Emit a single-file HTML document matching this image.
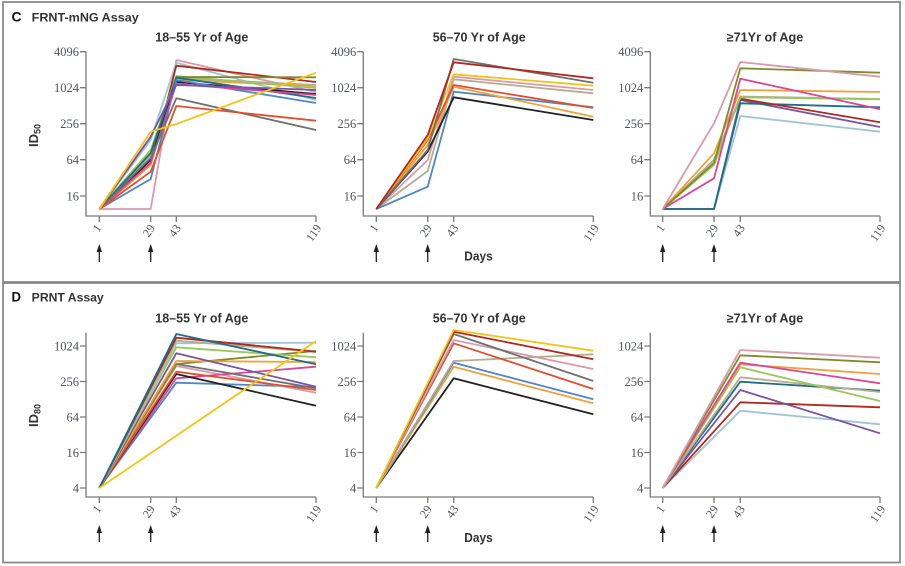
<!DOCTYPE html>
<html><head><meta charset="utf-8"><style>
html,body{margin:0;padding:0;background:#fff;}
svg{display:block;}
.ax{stroke:#7a7a7a;stroke-width:1.3;fill:none;}
.s{fill:none;stroke-width:1.8;stroke-linejoin:round;}
.yt{font-family:"Liberation Serif",serif;font-size:12.5px;fill:#4f555c;text-anchor:end;}
.xt{font-family:"Liberation Serif",serif;font-size:12px;fill:#4f555c;text-anchor:end;}
.tt{font-family:"Liberation Sans",sans-serif;font-weight:bold;font-size:12.5px;fill:#333;}
.pl{font-family:"Liberation Sans",sans-serif;font-weight:bold;font-size:14px;fill:#111;}
.ar{stroke:#222;stroke-width:1.3;}
</style></head><body>
<svg width="905" height="566" viewBox="0 0 905 566" xmlns="http://www.w3.org/2000/svg">
<rect x="0" y="0" width="905" height="566" fill="#fff"/>
<rect x="3" y="2" width="897" height="280" fill="none" stroke="#858585" stroke-width="1.7"/>
<rect x="3" y="283" width="897" height="279.5" fill="none" stroke="#858585" stroke-width="1.7"/>

<text class="pl" x="11.5" y="21.7" textLength="10" lengthAdjust="spacingAndGlyphs">C</text>
<text class="tt" x="31.7" y="21.7" textLength="107" lengthAdjust="spacingAndGlyphs" style="font-size:12px">FRNT-mNG Assay</text>
<text class="pl" x="11.5" y="301.5" textLength="9.5" lengthAdjust="spacingAndGlyphs">D</text>
<text class="tt" x="31.7" y="301.5" textLength="72" lengthAdjust="spacingAndGlyphs" style="font-size:12px">PRNT Assay</text>

<text class="tt" x="155.3" y="41.7" textLength="93" lengthAdjust="spacingAndGlyphs">18–55 Yr of Age</text>
<text class="tt" x="432.7" y="41.7" textLength="93" lengthAdjust="spacingAndGlyphs">56–70 Yr of Age</text>
<text class="tt" x="726.7" y="41.7" textLength="76.6" lengthAdjust="spacingAndGlyphs">≥71Yr of Age</text>
<text class="tt" x="155.3" y="322.5" textLength="93" lengthAdjust="spacingAndGlyphs">18–55 Yr of Age</text>
<text class="tt" x="432.7" y="322.5" textLength="93" lengthAdjust="spacingAndGlyphs">56–70 Yr of Age</text>
<text class="tt" x="726.7" y="322.5" textLength="76.6" lengthAdjust="spacingAndGlyphs">≥71Yr of Age</text>

<text class="tt" transform="translate(38,147) rotate(-90)" style="font-size:13px">ID<tspan style="font-size:9px" dy="2.5">50</tspan></text>
<text class="tt" transform="translate(38,427) rotate(-90)" style="font-size:13px">ID<tspan style="font-size:9px" dy="2.5">80</tspan></text>

<text class="tt" x="464.3" y="260.5" textLength="28.4" lengthAdjust="spacingAndGlyphs">Days</text>
<text class="tt" x="464.3" y="542" textLength="28.4" lengthAdjust="spacingAndGlyphs">Days</text>

<g>
<polyline class="ax" points="86,51.7 86,216 316,216"/>
<path class="ax" d="M80,51.7H86M80,87.7H86M80,123.7H86M80,159.7H86M80,196H86"/>
<path class="ax" d="M99.3,216V222M150.7,216V222M176.3,216V222M316,216V222"/>
<text class="yt" x="79" y="56">4096</text><text class="yt" x="79" y="92">1024</text><text class="yt" x="79" y="128">256</text><text class="yt" x="79" y="164">64</text><text class="yt" x="79" y="200.3">16</text>
<polyline class="ax" points="363.3,51.7 363.3,216 593.3,216"/>
<path class="ax" d="M357.3,51.7H363.3M357.3,87.7H363.3M357.3,123.7H363.3M357.3,159.7H363.3M357.3,196H363.3"/>
<path class="ax" d="M376.3,216V222M427.7,216V222M453.7,216V222M593.3,216V222"/>
<text class="yt" x="356.3" y="56">4096</text><text class="yt" x="356.3" y="92">1024</text><text class="yt" x="356.3" y="128">256</text><text class="yt" x="356.3" y="164">64</text><text class="yt" x="356.3" y="200.3">16</text>
<polyline class="ax" points="650.3,51.7 650.3,216 880,216"/>
<path class="ax" d="M644.3,51.7H650.3M644.3,87.7H650.3M644.3,123.7H650.3M644.3,159.7H650.3M644.3,196H650.3"/>
<path class="ax" d="M662.7,216V222M714,216V222M740.3,216V222M880,216V222"/>
<text class="yt" x="643.3" y="56">4096</text><text class="yt" x="643.3" y="92">1024</text><text class="yt" x="643.3" y="128">256</text><text class="yt" x="643.3" y="164">64</text><text class="yt" x="643.3" y="200.3">16</text>
</g>

<g>
<text class="xt" transform="translate(102,228) rotate(-55)">1</text>
<text class="xt" transform="translate(155.5,228) rotate(-55)">29</text>
<text class="xt" transform="translate(181.5,228) rotate(-55)">43</text>
<text class="xt" transform="translate(322,228) rotate(-55)">119</text>
<text class="xt" transform="translate(379,228) rotate(-55)">1</text>
<text class="xt" transform="translate(432.5,228) rotate(-55)">29</text>
<text class="xt" transform="translate(459,228) rotate(-55)">43</text>
<text class="xt" transform="translate(599.5,228) rotate(-55)">119</text>
<text class="xt" transform="translate(665.4,228) rotate(-55)">1</text>
<text class="xt" transform="translate(718.8,228) rotate(-55)">29</text>
<text class="xt" transform="translate(745.5,228) rotate(-55)">43</text>
<text class="xt" transform="translate(886,228) rotate(-55)">119</text>
</g>

<g fill="#222">
<path class="ar" d="M99.3,250V262M150.7,250V262M376.3,250V262M427.7,250V262M662.7,250V262M714,250V262"/>
<path d="M99.3,244L96.6,252H102Z M150.7,244L148,252H153.4Z M376.3,244L373.6,252H379Z M427.7,244L425,252H430.4Z M662.7,244L660,252H665.4Z M714,244L711.3,252H716.7Z"/>
</g>

<g>
<polyline class="s" stroke="#d99aaa" points="99.3,209 150.7,209 176.3,60 316,92"/>
<polyline class="s" stroke="#9ec5d6" points="99.3,209 150.7,140 176.3,62.7 316,100"/>
<polyline class="s" stroke="#b0281e" points="99.3,209 150.7,165 176.3,65.7 316,82"/>
<polyline class="s" stroke="#b5ad90" points="99.3,209 150.7,155 176.3,78 316,85"/>
<polyline class="s" stroke="#f2a03a" points="99.3,209 150.7,165 176.3,80 316,86"/>
<polyline class="s" stroke="#98c85a" points="99.3,209 150.7,150 176.3,76 316,88"/>
<polyline class="s" stroke="#7f8a2a" points="99.3,209 150.7,160 176.3,77 316,77.3"/>
<polyline class="s" stroke="#222222" points="99.3,209 150.7,160 176.3,82 316,94"/>
<polyline class="s" stroke="#1f6e85" points="99.3,209 150.7,153 176.3,77.7 316,98"/>
<polyline class="s" stroke="#4f86c6" points="99.3,209 150.7,179 176.3,80 316,103"/>
<polyline class="s" stroke="#d8479a" points="99.3,209 150.7,163 176.3,84 316,95"/>
<polyline class="s" stroke="#7a52a6" points="99.3,209 150.7,136.7 176.3,85 316,90"/>
<polyline class="s" stroke="#707070" points="99.3,209 150.7,158 176.3,98.3 316,130"/>
<polyline class="s" stroke="#e0502e" points="99.3,209 150.7,171.7 176.3,106 316,120.7"/>
<polyline class="s" stroke="#f2c417" points="99.3,209 150.7,131.7 176.3,124 316,72.7"/>
</g>
<g>
<polyline class="s" stroke="#b5ad90" points="376.3,209 427.7,171 453.7,79.3 593.3,93.3"/>
<polyline class="s" stroke="#d99aaa" points="376.3,209 427.7,160 453.7,76.7 593.3,90"/>
<polyline class="s" stroke="#4f86c6" points="376.3,209 427.7,186.7 453.7,91.7 593.3,107.3"/>
<polyline class="s" stroke="#f2a03a" points="376.3,209 427.7,145 453.7,86.7 593.3,116.7"/>
<polyline class="s" stroke="#e0502e" points="376.3,209 427.7,140 453.7,85 593.3,108"/>
<polyline class="s" stroke="#222222" points="376.3,209 427.7,151.7 453.7,97.3 593.3,120"/>
<polyline class="s" stroke="#f2c417" points="376.3,209 427.7,138.3 453.7,74.3 593.3,85.7"/>
<polyline class="s" stroke="#707070" points="376.3,209 427.7,150 453.7,59 593.3,82.7"/>
<polyline class="s" stroke="#b0281e" points="376.3,209 427.7,135 453.7,62.3 593.3,78.3"/>
</g>
<g>
<polyline class="s" stroke="#9ec5d6" points="662.7,209 714,209 740.3,116 880,131.7"/>
<polyline class="s" stroke="#7a52a6" points="662.7,209 714,209 740.3,100 880,127"/>
<polyline class="s" stroke="#1f6e85" points="662.7,209 714,209 740.3,103.3 880,107.3"/>
<polyline class="s" stroke="#b0281e" points="662.7,209 714,160 740.3,98.7 880,122.3"/>
<polyline class="s" stroke="#b5ad90" points="662.7,209 714,160 740.3,96.5 880,99"/>
<polyline class="s" stroke="#98c85a" points="662.7,209 714,165 740.3,97.3 880,99.3"/>
<polyline class="s" stroke="#f2a03a" points="662.7,209 714,153.3 740.3,90 880,92"/>
<polyline class="s" stroke="#d8479a" points="662.7,209 714,178.3 740.3,78.7 880,109.3"/>
<polyline class="s" stroke="#7f8a2a" points="662.7,209 714,163 740.3,68.3 880,72.7"/>
<polyline class="s" stroke="#d99aaa" points="662.7,209 714,123.3 740.3,62 880,76.7"/>
</g>

<g>
<polyline class="ax" points="86,332.7 86,497 316,497"/>
<path class="ax" d="M80,346H86M80,381.5H86M80,417H86M80,452.5H86M80,488H86"/>
<path class="ax" d="M99.3,497V503M150.7,497V503M176.3,497V503M316,497V503"/>
<text class="yt" x="79" y="350.3">1024</text><text class="yt" x="79" y="385.8">256</text><text class="yt" x="79" y="421.3">64</text><text class="yt" x="79" y="456.8">16</text><text class="yt" x="79" y="492.3">4</text>
<polyline class="ax" points="363.3,332.7 363.3,497 593.3,497"/>
<path class="ax" d="M357.3,346H363.3M357.3,381.5H363.3M357.3,417H363.3M357.3,452.5H363.3M357.3,488H363.3"/>
<path class="ax" d="M376.3,497V503M427.7,497V503M453.7,497V503M593.3,497V503"/>
<text class="yt" x="356.3" y="350.3">1024</text><text class="yt" x="356.3" y="385.8">256</text><text class="yt" x="356.3" y="421.3">64</text><text class="yt" x="356.3" y="456.8">16</text><text class="yt" x="356.3" y="492.3">4</text>
<polyline class="ax" points="650.3,332.7 650.3,497 880,497"/>
<path class="ax" d="M644.3,346H650.3M644.3,381.5H650.3M644.3,417H650.3M644.3,452.5H650.3M644.3,488H650.3"/>
<path class="ax" d="M662.7,497V503M714,497V503M740.3,497V503M880,497V503"/>
<text class="yt" x="643.3" y="350.3">1024</text><text class="yt" x="643.3" y="385.8">256</text><text class="yt" x="643.3" y="421.3">64</text><text class="yt" x="643.3" y="456.8">16</text><text class="yt" x="643.3" y="492.3">4</text>
</g>

<g>
<text class="xt" transform="translate(102,509) rotate(-55)">1</text>
<text class="xt" transform="translate(155.5,509) rotate(-55)">29</text>
<text class="xt" transform="translate(181.5,509) rotate(-55)">43</text>
<text class="xt" transform="translate(322,509) rotate(-55)">119</text>
<text class="xt" transform="translate(379,509) rotate(-55)">1</text>
<text class="xt" transform="translate(432.5,509) rotate(-55)">29</text>
<text class="xt" transform="translate(459,509) rotate(-55)">43</text>
<text class="xt" transform="translate(599.5,509) rotate(-55)">119</text>
<text class="xt" transform="translate(665.4,509) rotate(-55)">1</text>
<text class="xt" transform="translate(718.8,509) rotate(-55)">29</text>
<text class="xt" transform="translate(745.5,509) rotate(-55)">43</text>
<text class="xt" transform="translate(886,509) rotate(-55)">119</text>
</g>

<g fill="#222">
<path class="ar" d="M99.3,531V542M150.7,531V542M376.3,531V542M427.7,531V542M662.7,531V542M714,531V542"/>
<path d="M99.3,525L96.6,533H102Z M150.7,525L148,533H153.4Z M376.3,525L373.6,533H379Z M427.7,525L425,533H430.4Z M662.7,525L660,533H665.4Z M714,525L711.3,533H716.7Z"/>
</g>

<g>
<polyline class="s" stroke="#4f86c6" points="99.3,488 176.3,382.7 316,387"/>
<polyline class="s" stroke="#d99aaa" points="99.3,488 176.3,366 316,392.7"/>
<polyline class="s" stroke="#d8479a" points="99.3,488 176.3,378.3 316,366.7"/>
<polyline class="s" stroke="#222222" points="99.3,488 176.3,374 316,405.7"/>
<polyline class="s" stroke="#e0502e" points="99.3,488 176.3,371.7 316,390"/>
<polyline class="s" stroke="#707070" points="99.3,488 176.3,364 316,388.3"/>
<polyline class="s" stroke="#7f8a2a" points="99.3,488 176.3,364 316,351"/>
<polyline class="s" stroke="#f2a03a" points="99.3,488 176.3,361 316,362"/>
<polyline class="s" stroke="#7a52a6" points="99.3,488 176.3,353.3 316,386.7"/>
<polyline class="s" stroke="#98c85a" points="99.3,488 176.3,347.3 316,357.3"/>
<polyline class="s" stroke="#9ec5d6" points="99.3,488 176.3,343.3 316,342.7"/>
<polyline class="s" stroke="#b5ad90" points="99.3,488 176.3,340.7 316,352"/>
<polyline class="s" stroke="#b0281e" points="99.3,488 176.3,337.7 316,351.7"/>
<polyline class="s" stroke="#1f6e85" points="99.3,488 176.3,334 316,364.3"/>
<polyline class="s" stroke="#f2c417" points="99.3,488 316,341"/>
</g>
<g>
<polyline class="s" stroke="#222222" points="376.3,488 453.7,378.3 593.3,414.3"/>
<polyline class="s" stroke="#f2a03a" points="376.3,488 453.7,366.7 593.3,403.3"/>
<polyline class="s" stroke="#4f86c6" points="376.3,488 453.7,362.7 593.3,399.3"/>
<polyline class="s" stroke="#b5ad90" points="376.3,488 453.7,361 593.3,354.3"/>
<polyline class="s" stroke="#e0502e" points="376.3,488 453.7,343.3 593.3,389"/>
<polyline class="s" stroke="#d99aaa" points="376.3,488 453.7,340 593.3,369"/>
<polyline class="s" stroke="#707070" points="376.3,488 453.7,334 593.3,381"/>
<polyline class="s" stroke="#b0281e" points="376.3,488 453.7,331.7 593.3,359.3"/>
<polyline class="s" stroke="#f2c417" points="376.3,488 453.7,330 593.3,350.7"/>
</g>
<g>
<polyline class="s" stroke="#9ec5d6" points="662.7,488 740.3,410.7 880,424.3"/>
<polyline class="s" stroke="#b0281e" points="662.7,488 740.3,402.3 880,407.3"/>
<polyline class="s" stroke="#7a52a6" points="662.7,488 740.3,390 880,433.3"/>
<polyline class="s" stroke="#1f6e85" points="662.7,488 740.3,381.7 880,390.7"/>
<polyline class="s" stroke="#b5ad90" points="662.7,488 740.3,377.3 880,392"/>
<polyline class="s" stroke="#98c85a" points="662.7,488 740.3,367.3 880,401"/>
<polyline class="s" stroke="#f2a03a" points="662.7,488 740.3,364.3 880,374"/>
<polyline class="s" stroke="#d8479a" points="662.7,488 740.3,362.7 880,383.3"/>
<polyline class="s" stroke="#7f8a2a" points="662.7,488 740.3,355.3 880,362.3"/>
<polyline class="s" stroke="#d99aaa" points="662.7,488 740.3,350 880,357.7"/>
</g>
</svg>
</body></html>
